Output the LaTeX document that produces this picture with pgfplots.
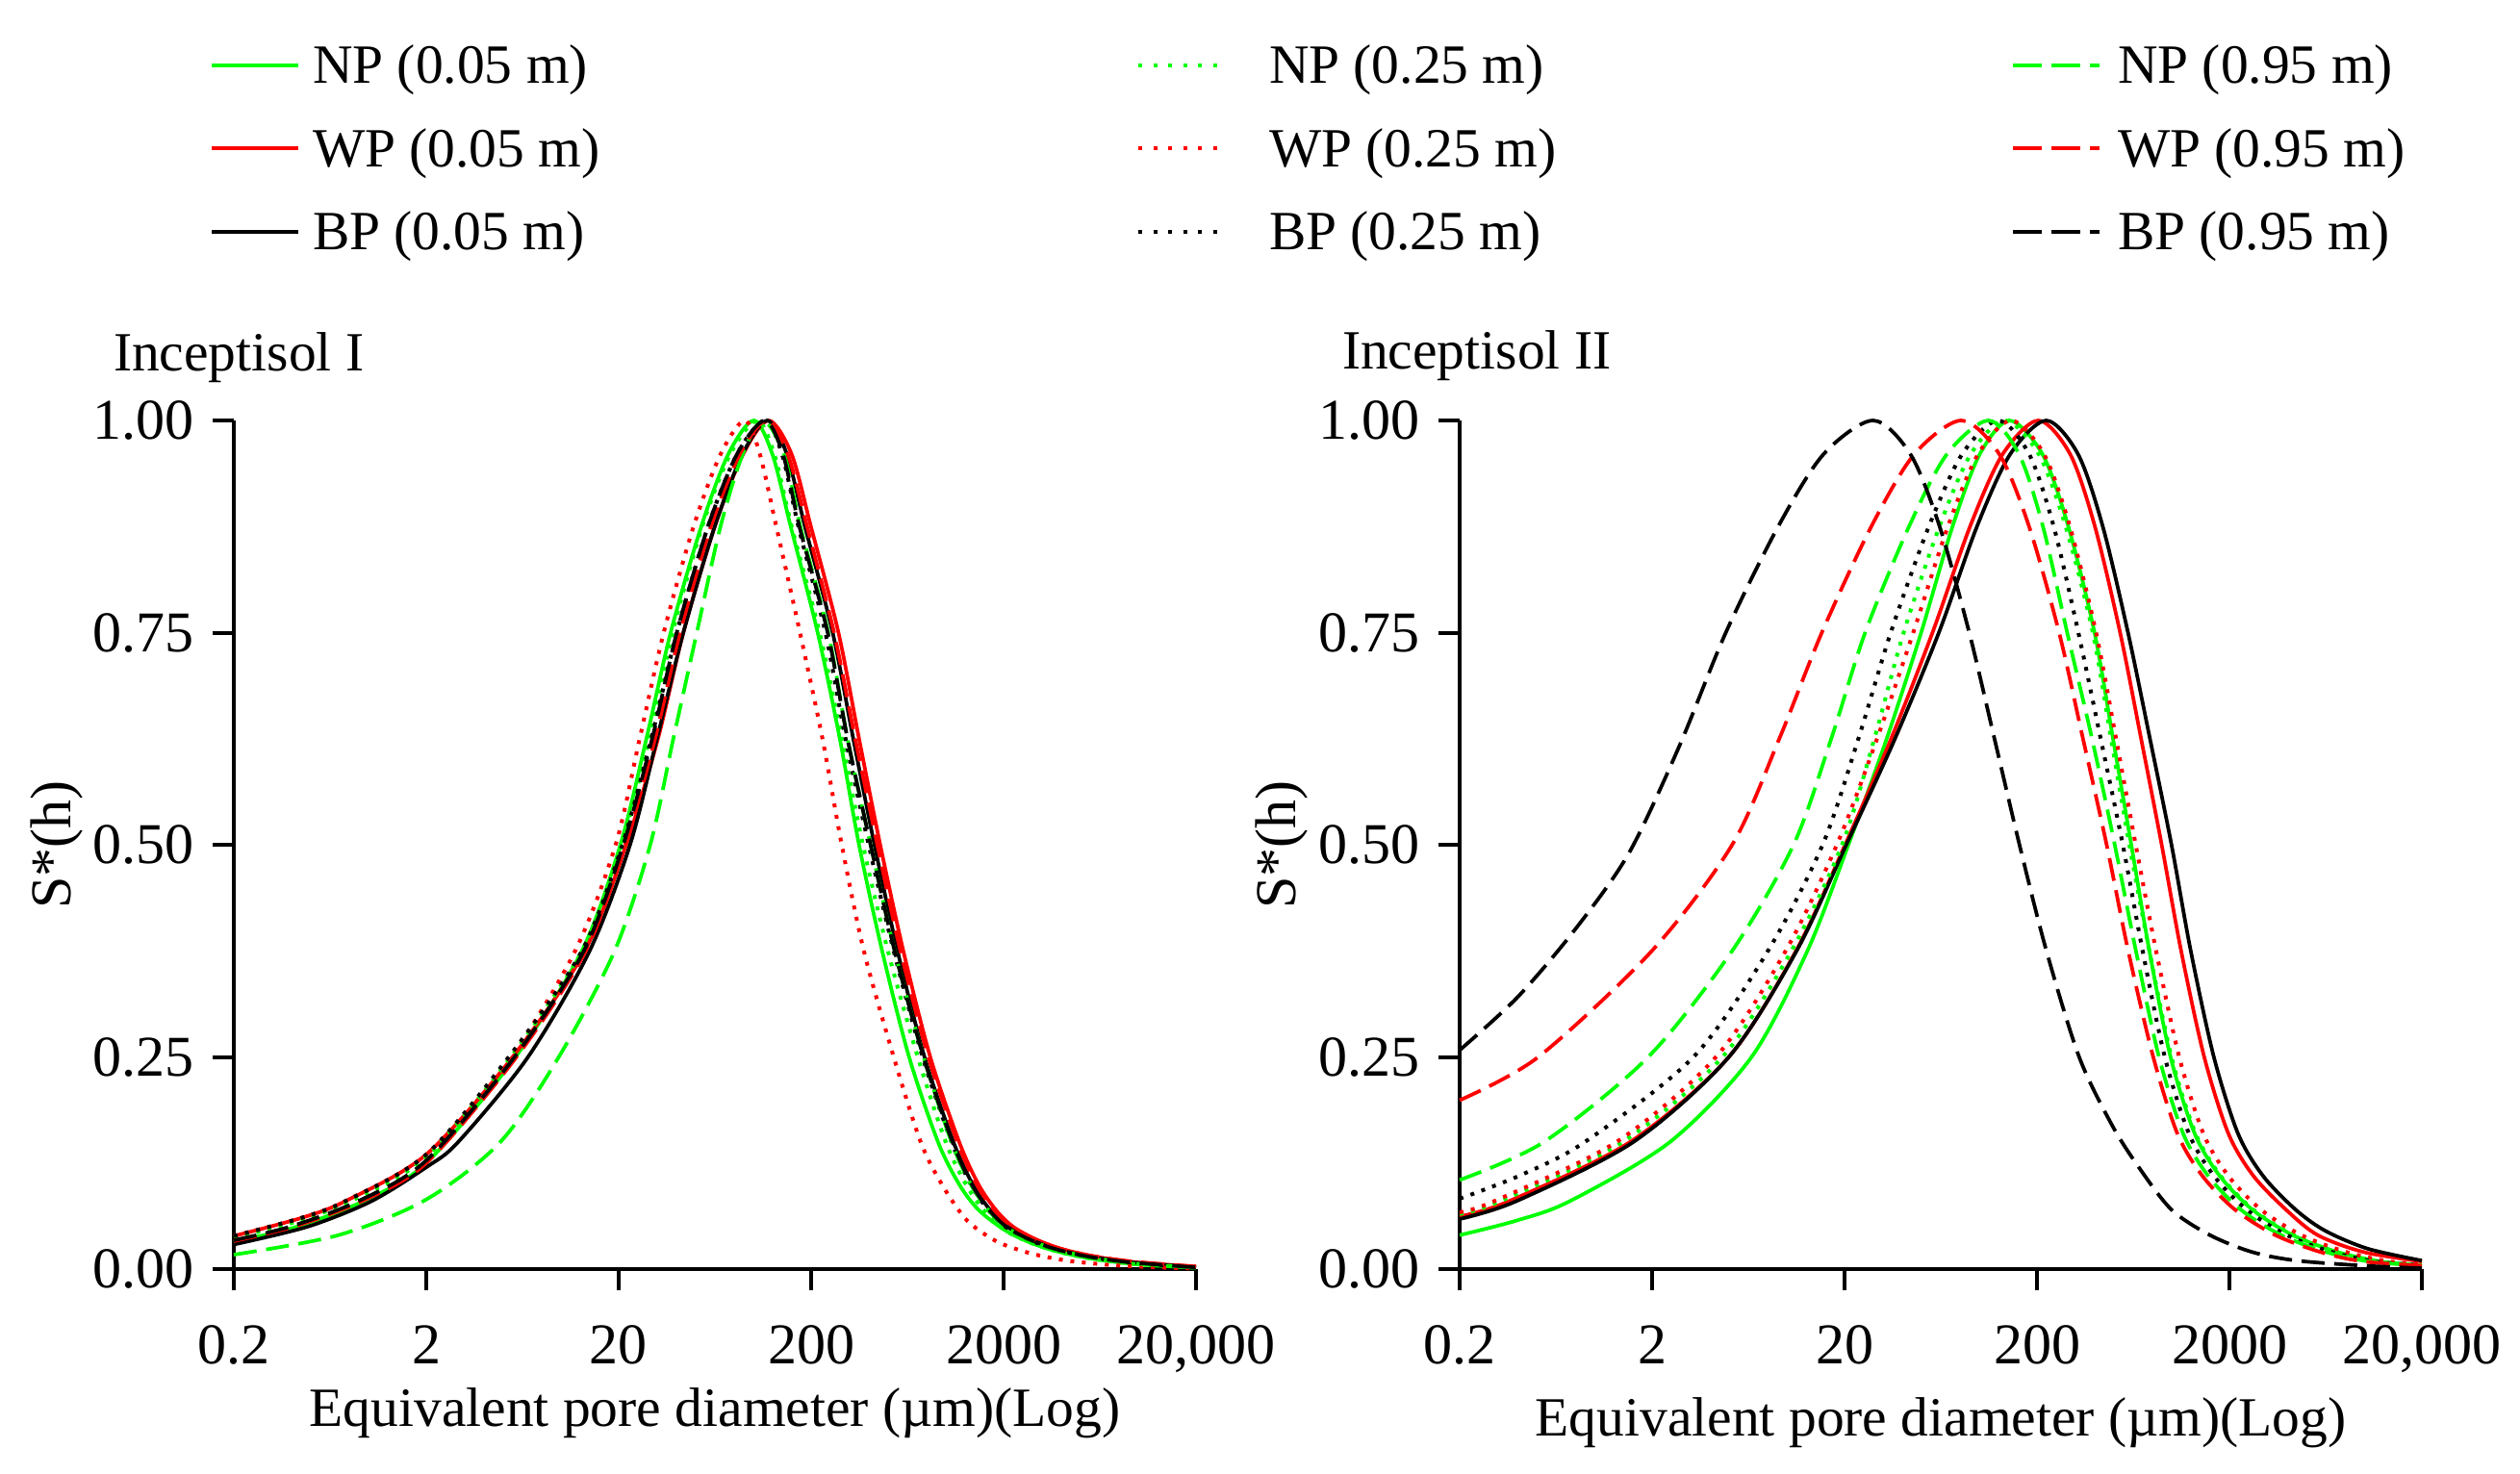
\documentclass[border=0pt]{standalone}
\usepackage{fontspec}
\setmainfont{Liberation Serif}
\usepackage{pgfplots}
\pgfplotsset{compat=1.18}
\definecolor{ngreen}{RGB}{0,255,0}
\definecolor{nred}{RGB}{255,0,0}
\pgfplotsset{
  sol/.style={smooth, tension=0.5, line width=0.75pt},
  dot/.style={smooth, tension=0.5, line width=0.8pt, dash pattern=on 0.8pt off 1.6pt},
  dsh/.style={smooth, tension=0.5, line width=0.75pt, dash pattern=on 4.8pt off 2pt},
  myaxis/.style={
    scale only axis, width=200pt, height=176.4pt, anchor=south west,
    xmin=-0.69897, xmax=4.30103, ymin=0, ymax=1,
    axis x line*=bottom, axis y line*=left,
    axis line style={-, line width=0.8pt, black},
    xtick={-0.69897,0.30103,1.30103,2.30103,3.30103,4.30103},
    xticklabels={\mbox{0.2},\mbox{2},\mbox{20},\mbox{200},\mbox{2000},{\mbox{20,000}}},
    ytick={0,0.25,0.5,0.75,1},
    yticklabels={\mbox{0.00},\mbox{0.25},\mbox{0.50},\mbox{0.75},\mbox{1.00}},
    tick align=outside, major tick length=4.4pt,
    tick style={line width=0.8pt, black},
    minor tick num=0,
    tick label style={font=\fontsize{12}{14}\selectfont},
    xticklabel style={anchor=north, inner sep=0pt, yshift=-7.1pt},
    yticklabel style={anchor=east, inner sep=0pt, xshift=-3.7pt},
    clip=false,
  },
  legax/.style={
    hide axis, scale only axis, width=10pt, height=10pt,
    xmin=0, xmax=1, ymin=0, ymax=1, anchor=north west,
    legend style={at={(0,1)}, anchor=north west, draw=none, fill=none,
      inner sep=0pt, outer sep=0pt, row sep=6pt,
      font=\fontsize{11.5}{13}\selectfont,
      nodes={inner sep=0pt, text height=8.4pt, text depth=2.9pt, anchor=west}},
    legend image code/.code={\draw[##1] (0pt,1pt) -- (18pt,1pt);},
  },
}
\begin{document}
\begin{tikzpicture}
\path[use as bounding box] (0pt,0pt) rectangle (523.8pt,306.2pt);

% ---------------- Inceptisol I  (x = log10 of pore diameter in micrometres) ----------------
\begin{axis}[myaxis, at={(48.6pt,42.4pt)}]
% NP 0.05
\addplot[ngreen, sol] coordinates {(-0.699,0.032) (-0.371,0.05) (-0.027,0.08) (0.301,0.125) (0.765,0.25) (1.11,0.375) (1.31,0.5) (1.445,0.625) (1.571,0.75) (1.73,0.875) (1.87,0.96) (2.003,1) (2.10,0.96) (2.195,0.875) (2.335,0.75) (2.45,0.625) (2.55,0.5) (2.67,0.375) (2.81,0.25) (2.96,0.15) (3.07,0.1) (3.17,0.07) (3.30,0.047) (3.42,0.033) (3.56,0.022) (3.74,0.013) (3.98,0.006) (4.301,0.0015)};
% WP 0.05
\addplot[nred, sol] coordinates {(-0.699,0.039) (-0.352,0.06) (-0.120,0.08) (0.301,0.135) (0.75,0.25) (1.125,0.375) (1.34,0.5) (1.505,0.625) (1.637,0.75) (1.80,0.875) (1.947,0.96) (2.08,1) (2.20,0.96) (2.30,0.875) (2.443,0.75) (2.55,0.625) (2.66,0.5) (2.78,0.375) (2.92,0.25) (3.07,0.15) (3.17,0.1) (3.26,0.07) (3.35,0.05) (3.47,0.035) (3.60,0.024) (3.77,0.015) (3.99,0.008) (4.301,0.003)};
% BP 0.05
\addplot[black, sol] coordinates {(-0.699,0.029) (-0.315,0.05) (0.016,0.08) (0.301,0.12) (0.468,0.15) (0.83,0.25) (1.15,0.375) (1.36,0.5) (1.50,0.625) (1.637,0.75) (1.80,0.875) (1.944,0.96) (2.073,1) (2.175,0.96) (2.269,0.875) (2.413,0.75) (2.52,0.625) (2.63,0.5) (2.75,0.375) (2.89,0.25) (3.04,0.15) (3.14,0.1) (3.23,0.07) (3.32,0.05) (3.44,0.035) (3.57,0.024) (3.74,0.015) (3.96,0.008) (4.301,0.002)};
% NP 0.25
\addplot[ngreen, dot] coordinates {(-0.699,0.037) (-0.388,0.055) (-0.093,0.08) (0.301,0.132) (0.74,0.25) (1.11,0.375) (1.315,0.5) (1.46,0.625) (1.581,0.75) (1.735,0.875) (1.88,0.96) (2.02,1) (2.11,0.96) (2.20,0.875) (2.345,0.75) (2.46,0.625) (2.57,0.5) (2.70,0.375) (2.855,0.25) (3.0,0.15) (3.105,0.1) (3.195,0.07) (3.30,0.047) (3.42,0.033) (3.56,0.022) (3.74,0.013) (3.98,0.006) (4.301,0.002)};
% WP 0.25
\addplot[nred, dot] coordinates {(-0.699,0.039) (-0.352,0.06) (-0.120,0.08) (0.301,0.135) (0.74,0.25) (1.075,0.375) (1.285,0.5) (1.41,0.625) (1.535,0.75) (1.69,0.875) (1.83,0.96) (1.956,1) (2.035,0.96) (2.12,0.875) (2.243,0.75) (2.36,0.625) (2.46,0.5) (2.575,0.375) (2.73,0.25) (2.87,0.15) (2.98,0.1) (3.10,0.06) (3.21,0.04) (3.301,0.029) (3.45,0.018) (3.63,0.01) (3.85,0.005) (4.1,0.002) (4.301,0.001)};
% BP 0.25
\addplot[black, dot] coordinates {(-0.699,0.039) (-0.352,0.06) (-0.120,0.08) (0.301,0.135) (0.73,0.25) (1.11,0.375) (1.32,0.5) (1.47,0.625) (1.603,0.75) (1.765,0.875) (1.915,0.96) (2.06,1) (2.15,0.96) (2.235,0.875) (2.375,0.75) (2.48,0.625) (2.60,0.5) (2.73,0.375) (2.88,0.25) (3.03,0.15) (3.13,0.1) (3.22,0.07) (3.31,0.05) (3.43,0.035) (3.56,0.024) (3.73,0.015) (3.95,0.008) (4.301,0.002)};
% NP 0.95
\addplot[ngreen, dsh] coordinates {(-0.699,0.017) (-0.155,0.04) (0.301,0.082) (0.687,0.15) (0.99,0.25) (1.28,0.375) (1.465,0.5) (1.585,0.625) (1.707,0.75) (1.83,0.875) (1.945,0.96) (2.05,1) (2.16,0.96) (2.245,0.875) (2.39,0.75) (2.49,0.625) (2.61,0.5) (2.735,0.375) (2.885,0.25) (3.03,0.15) (3.13,0.1) (3.22,0.07) (3.31,0.05) (3.43,0.035) (3.56,0.024) (3.73,0.015) (3.96,0.007) (4.301,0.002)};
% WP 0.95
\addplot[nred, dsh] coordinates {(-0.699,0.033) (-0.388,0.05) (-0.035,0.08) (0.301,0.125) (0.77,0.25) (1.13,0.375) (1.335,0.5) (1.49,0.625) (1.62,0.75) (1.78,0.875) (1.93,0.96) (2.07,1) (2.18,0.96) (2.28,0.875) (2.42,0.75) (2.53,0.625) (2.645,0.5) (2.765,0.375) (2.91,0.25) (3.06,0.15) (3.16,0.1) (3.25,0.07) (3.33,0.052) (3.45,0.036) (3.58,0.025) (3.75,0.016) (3.97,0.009) (4.301,0.003)};
% BP 0.95
\addplot[black, dsh] coordinates {(-0.699,0.034) (-0.407,0.05) (-0.053,0.08) (0.301,0.128) (0.76,0.25) (1.12,0.375) (1.325,0.5) (1.475,0.625) (1.603,0.75) (1.765,0.875) (1.915,0.96) (2.06,1) (2.155,0.96) (2.24,0.875) (2.387,0.75) (2.49,0.625) (2.61,0.5) (2.735,0.375) (2.885,0.25) (3.035,0.15) (3.135,0.1) (3.225,0.07) (3.315,0.05) (3.435,0.035) (3.565,0.024) (3.735,0.015) (3.955,0.008) (4.301,0.002)};
\end{axis}

% ---------------- Inceptisol II ----------------
\begin{axis}[myaxis, at={(303.4pt,42.4pt)}]
% NP 0.05
\addplot[ngreen, sol] coordinates {(-0.699,0.040) (-0.406,0.057) (-0.127,0.08) (0.395,0.15) (0.818,0.25) (1.108,0.375) (1.321,0.5) (1.520,0.625) (1.699,0.75) (1.862,0.875) (2.003,0.96) (2.158,1) (2.330,0.96) (2.464,0.875) (2.60,0.75) (2.696,0.625) (2.791,0.5) (2.885,0.375) (2.995,0.25) (3.12,0.16) (3.25,0.11) (3.42,0.07) (3.63,0.04) (3.865,0.02) (4.085,0.009) (4.301,0.0045)};
% WP 0.05
\addplot[nred, sol] coordinates {(-0.699,0.062) (-0.443,0.08) (0.188,0.15) (0.70,0.25) (1.049,0.375) (1.304,0.5) (1.543,0.625) (1.758,0.75) (1.953,0.875) (2.122,0.96) (2.308,1) (2.474,0.96) (2.602,0.875) (2.733,0.75) (2.842,0.625) (2.949,0.5) (3.05,0.375) (3.17,0.25) (3.295,0.16) (3.425,0.11) (3.595,0.07) (3.76,0.04) (4.0,0.02) (4.301,0.009)};
% BP 0.05
\addplot[black, sol] coordinates {(-0.699,0.059) (-0.405,0.08) (0.205,0.15) (0.70,0.25) (1.052,0.375) (1.31,0.5) (1.563,0.625) (1.791,0.75) (1.989,0.875) (2.161,0.96) (2.349,1) (2.515,0.96) (2.643,0.875) (2.774,0.75) (2.888,0.625) (3.0,0.5) (3.10,0.375) (3.22,0.25) (3.345,0.16) (3.475,0.11) (3.645,0.07) (3.80,0.045) (4.02,0.024) (4.301,0.010)};
% NP 0.25
\addplot[ngreen, dot] coordinates {(-0.699,0.065) (-0.488,0.08) (0.149,0.15) (0.667,0.25) (1.025,0.375) (1.288,0.5) (1.456,0.625) (1.608,0.75) (1.794,0.875) (1.956,0.96) (2.133,1) (2.311,0.96) (2.450,0.875) (2.591,0.75) (2.686,0.625) (2.781,0.5) (2.885,0.375) (3.0,0.25) (3.125,0.16) (3.255,0.11) (3.425,0.07) (3.635,0.04) (3.87,0.02) (4.09,0.009) (4.301,0.005)};
% WP 0.25
\addplot[nred, dot] coordinates {(-0.699,0.067) (-0.520,0.08) (0.117,0.15) (0.633,0.25) (0.995,0.375) (1.261,0.5) (1.470,0.625) (1.658,0.75) (1.838,0.875) (1.994,0.96) (2.166,1) (2.338,0.96) (2.472,0.875) (2.608,0.75) (2.712,0.625) (2.814,0.5) (2.92,0.375) (3.04,0.25) (3.165,0.16) (3.295,0.11) (3.465,0.07) (3.675,0.04) (3.91,0.02) (4.13,0.009) (4.301,0.006)};
% BP 0.25
\addplot[black, dot] coordinates {(-0.699,0.083) (-0.389,0.11) (-0.047,0.15) (0.516,0.25) (0.903,0.375) (1.187,0.5) (1.373,0.625) (1.541,0.75) (1.739,0.875) (1.911,0.96) (2.099,1) (2.261,0.96) (2.388,0.875) (2.516,0.75) (2.632,0.625) (2.747,0.5) (2.85,0.375) (2.965,0.25) (3.09,0.16) (3.22,0.11) (3.39,0.07) (3.60,0.04) (3.835,0.02) (4.055,0.009) (4.301,0.0045)};
% NP 0.95
\addplot[ngreen, dsh] coordinates {(-0.699,0.105) (-0.26,0.15) (0.281,0.25) (0.717,0.375) (1.036,0.5) (1.232,0.625) (1.408,0.75) (1.636,0.875) (1.832,0.96) (2.049,1) (2.208,0.96) (2.332,0.875) (2.458,0.75) (2.587,0.625) (2.705,0.5) (2.815,0.375) (2.935,0.25) (3.06,0.16) (3.19,0.11) (3.36,0.07) (3.57,0.04) (3.805,0.02) (4.025,0.009) (4.301,0.004)};
% WP 0.95
\addplot[nred, dsh] coordinates {(-0.699,0.199) (-0.29,0.25) (0.30,0.375) (0.717,0.5) (0.962,0.625) (1.183,0.75) (1.440,0.875) (1.663,0.96) (1.908,1) (2.106,0.96) (2.260,0.875) (2.416,0.75) (2.540,0.625) (2.663,0.5) (2.775,0.375) (2.905,0.25) (3.03,0.16) (3.16,0.11) (3.33,0.07) (3.54,0.04) (3.775,0.02) (3.995,0.009) (4.301,0.004)};
% BP 0.95
\addplot[black, dsh] coordinates {(-0.699,0.258) (-0.40,0.32) (-0.10,0.40) (0.18,0.49) (0.44,0.615) (0.684,0.75) (0.956,0.875) (1.191,0.96) (1.449,1) (1.644,0.96) (1.795,0.875) (1.949,0.75) (2.080,0.625) (2.210,0.5) (2.35,0.375) (2.52,0.25) (2.69,0.17) (2.83,0.12) (3.0,0.07) (3.2,0.04) (3.42,0.02) (3.65,0.01) (4.0,0.004) (4.301,0.001)};
\end{axis}

% ---------------- legends ----------------
\begin{axis}[legax, at={(43.6pt,297.3pt)},
  legend style={/tikz/every odd column/.append style={column sep=2.6pt}}]
\addlegendimage{ngreen, line width=0.8pt}\addlegendentry{NP (0.05 m)}
\addlegendimage{nred, line width=0.8pt}\addlegendentry{WP (0.05 m)}
\addlegendimage{black, line width=0.8pt}\addlegendentry{BP (0.05 m)}
\end{axis}
\begin{axis}[legax, at={(236.2pt,297.3pt)},
  legend style={/tikz/every odd column/.append style={column sep=8.8pt}}]
\addlegendimage{ngreen, line width=0.8pt, dash pattern=on 0.8pt off 2.3pt}\addlegendentry{NP (0.25 m)}
\addlegendimage{nred, line width=0.8pt, dash pattern=on 0.8pt off 2.3pt}\addlegendentry{WP (0.25 m)}
\addlegendimage{black, line width=0.8pt, dash pattern=on 0.8pt off 2.3pt}\addlegendentry{BP (0.25 m)}
\end{axis}
\begin{axis}[legax, at={(418pt,297.3pt)},
  legend style={/tikz/every odd column/.append style={column sep=3.4pt}}]
\addlegendimage{ngreen, line width=0.8pt, dash pattern=on 6pt off 2pt}\addlegendentry{NP (0.95 m)}
\addlegendimage{nred, line width=0.8pt, dash pattern=on 6pt off 2pt}\addlegendentry{WP (0.95 m)}
\addlegendimage{black, line width=0.8pt, dash pattern=on 6pt off 2pt}\addlegendentry{BP (0.95 m)}
\end{axis}

% ---------------- titles and labels ----------------
\node[anchor=base west, inner sep=0pt, font=\fontsize{11.5}{13}\selectfont] at (23.4pt,229.2pt) {Inceptisol I};
\node[anchor=base west, inner sep=0pt, font=\fontsize{11.5}{13}\selectfont] at (278.8pt,229.6pt) {Inceptisol II};
\node[rotate=90, inner sep=0pt, font=\fontsize{12}{14}\selectfont] at (11.8pt,130.6pt) {S*(h)};
\node[rotate=90, inner sep=0pt, font=\fontsize{12}{14}\selectfont] at (266.4pt,130.6pt) {S*(h)};
\node[inner sep=0pt, font=\fontsize{11.5}{13}\selectfont] at (148.6pt,12.4pt) {Equivalent pore diameter (µm)(Log)};
\node[inner sep=0pt, font=\fontsize{11.5}{13}\selectfont] at (403.4pt,10.4pt) {Equivalent pore diameter (µm)(Log)};
\end{tikzpicture}
\end{document}
